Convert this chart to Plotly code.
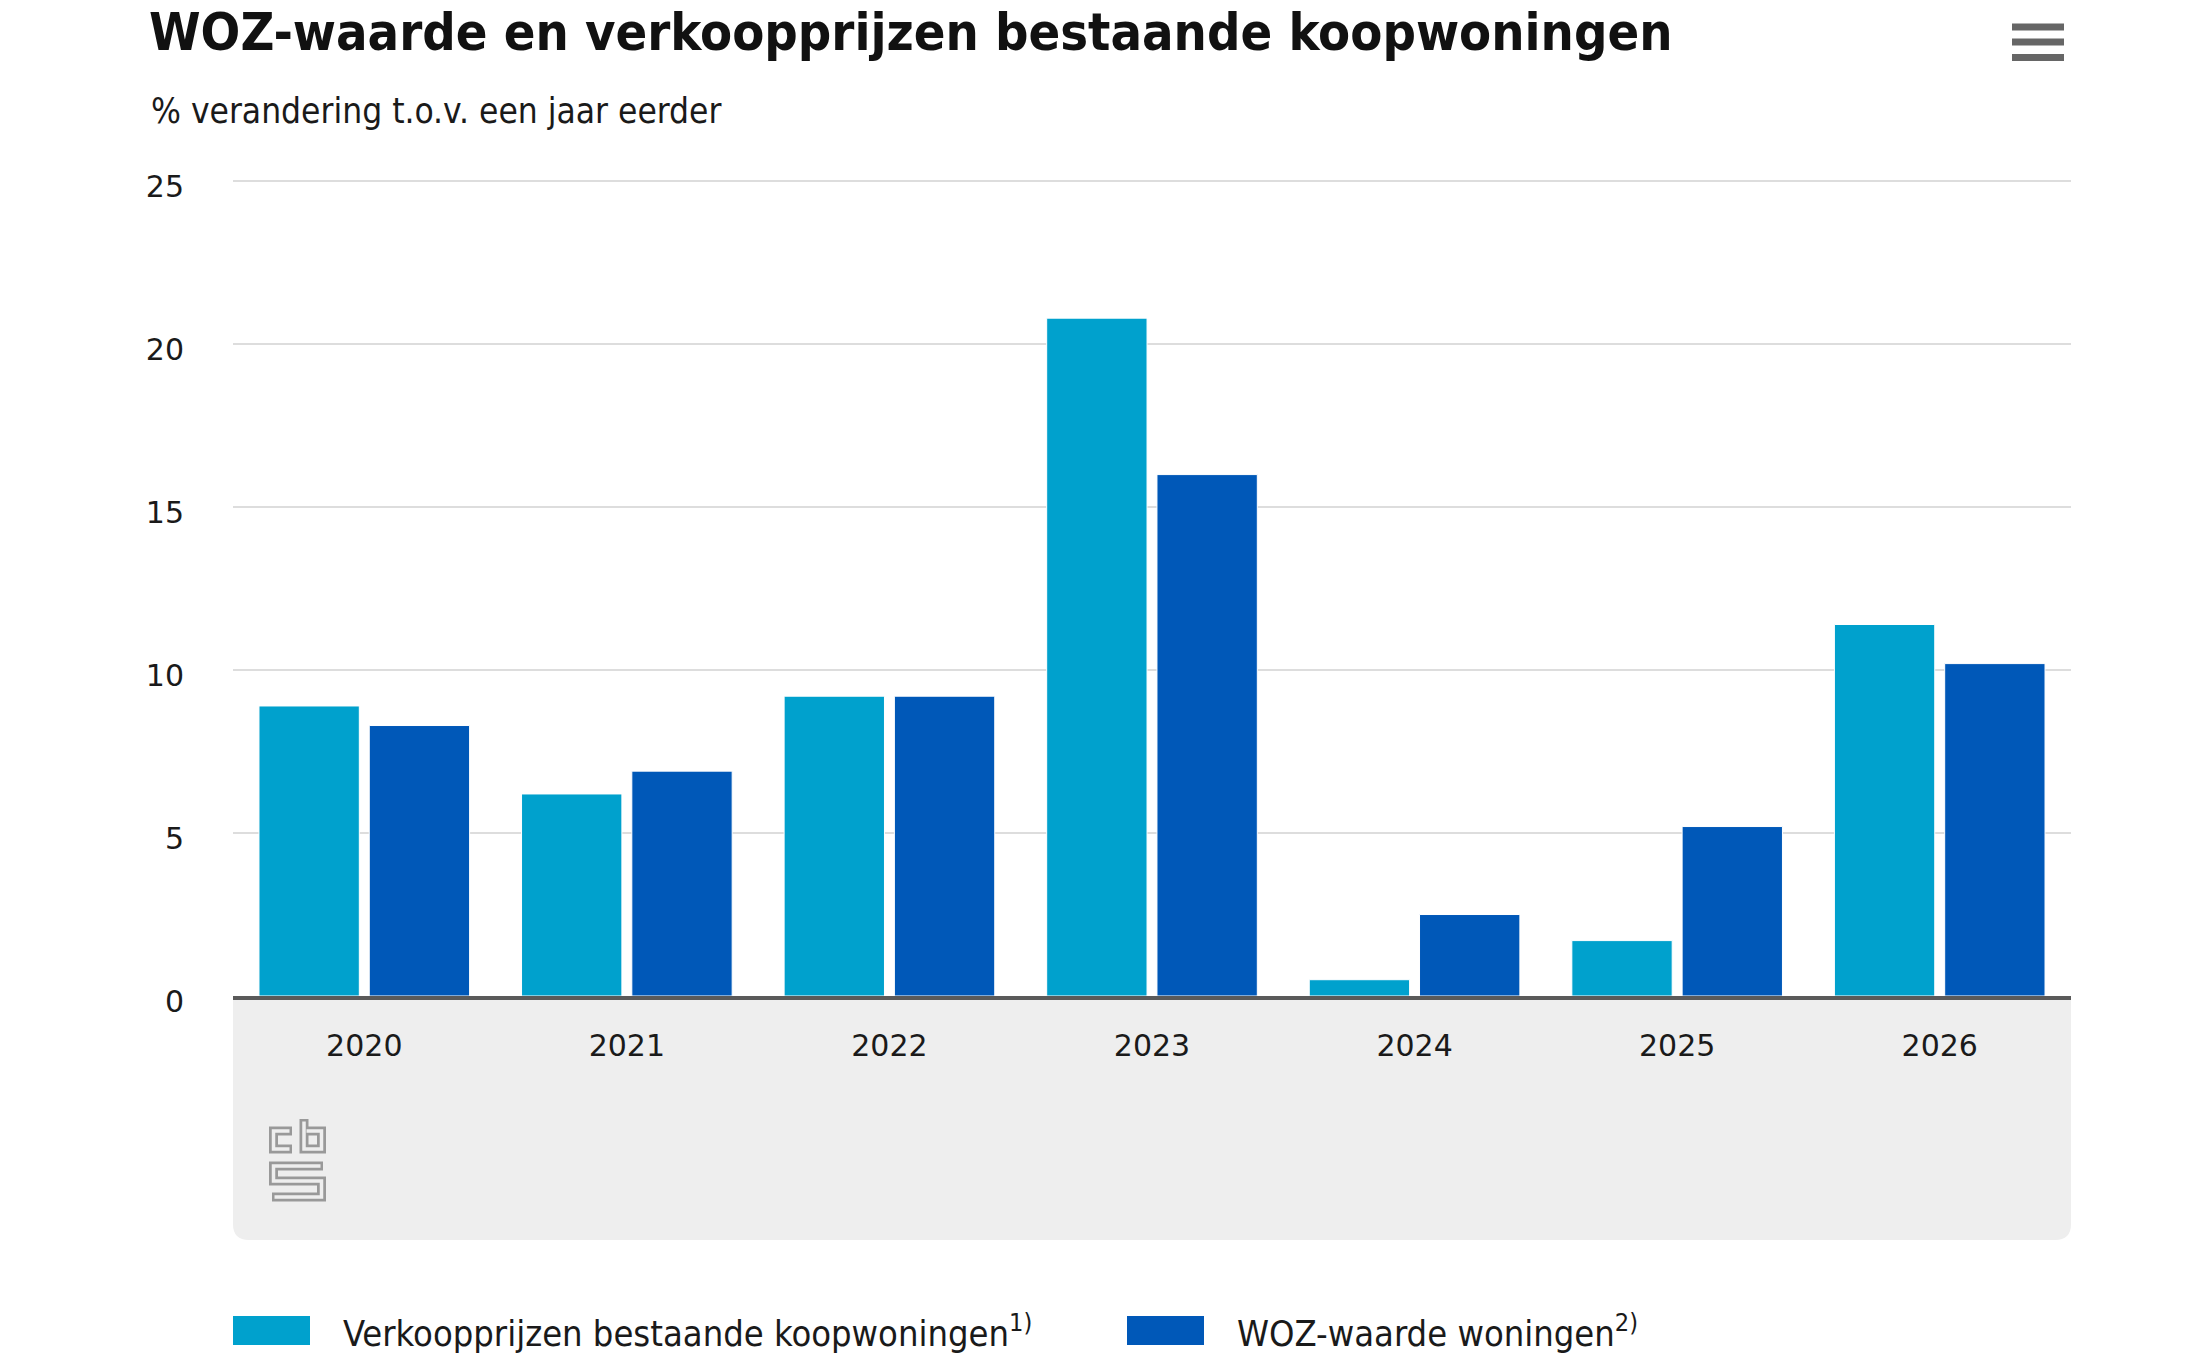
import plotly.graph_objects as go

years = ["2020", "2021", "2022", "2023", "2024", "2025", "2026"]
verkoopprijzen = [8.9, 6.2, 9.2, 20.8, 0.5, 1.7, 11.4]
woz_waarde = [8.3, 6.9, 9.2, 16.0, 2.5, 5.2, 10.2]
series_names = ["Verkoopprijzen bestaande koopwoningen", "WOZ-waarde woningen"]
series_notes = ["1)", "2)"]
y_ticks = [0, 5, 10, 15, 20, 25]

title = "WOZ-waarde en verkoopprijzen bestaande koopwoningen"
subtitle = "% verandering t.o.v. een jaar eerder"

C_LIGHT = "#00a1cd"
C_DARK = "#0058b8"
PANEL = "#eeeeee"
COND = "DejaVu Sans Condensed, Roboto, sans-serif"

FW, FH = 2200, 1354
L, R, T, B = 233, 2071, 180, 996
PW, PH = R - L, B - T


def px(x):
    return (x - L) / PW


def py(y):
    return (B - y) / PH


fig = go.Figure()
for name, vals, col in zip(series_names, [verkoopprijzen, woz_waarde], [C_LIGHT, C_DARK]):
    fig.add_trace(go.Bar(x=years, y=vals, name=name, marker=dict(color=col, line=dict(color="white", width=1)),
                         showlegend=False))

shapes = []
r = 16
x0, x1, y0, y1 = L, R, B, 1240
path = (f"M {px(x0)},{py(y0)} L {px(x1)},{py(y0)} L {px(x1)},{py(y1 - r)} "
        f"Q {px(x1)},{py(y1)} {px(x1 - r)},{py(y1)} L {px(x0 + r)},{py(y1)} "
        f"Q {px(x0)},{py(y1)} {px(x0)},{py(y1 - r)} Z")
shapes.append(dict(type="path", xref="paper", yref="paper", path=path, fillcolor=PANEL,
                   line=dict(width=0), layer="below"))

logo_paths = [
    [(292, 1131), (273.5, 1131), (273.5, 1149), (292, 1149)],
    [(304, 1119), (304, 1149), (321.5, 1149), (321.5, 1131), (304, 1131)],
    [(323, 1166), (273.5, 1166), (273.5, 1181), (321.5, 1181), (321.5, 1197), (272, 1197)],
]


def mkpath(pts):
    return "M " + " L ".join(f"{px(x)},{py(y)}" for x, y in pts)


for pts in logo_paths:
    shapes.append(dict(type="path", xref="paper", yref="paper", path=mkpath(pts),
                       line=dict(color="#999999", width=9)))
for pts in logo_paths:
    p2 = list(pts)
    (ax, ay), (bx, by) = p2[0], p2[1]
    dx, dy = bx - ax, by - ay
    n = max(abs(dx), abs(dy))
    p2[0] = (ax + 2.5 * dx / n, ay + 2.5 * dy / n)
    (ax, ay), (bx, by) = p2[-1], p2[-2]
    dx, dy = bx - ax, by - ay
    n = max(abs(dx), abs(dy))
    p2[-1] = (ax + 2.5 * dx / n, ay + 2.5 * dy / n)
    shapes.append(dict(type="path", xref="paper", yref="paper", path=mkpath(p2),
                       line=dict(color=PANEL, width=3.5)))

for yc in [27, 42, 57.5]:
    shapes.append(dict(type="rect", xref="paper", yref="paper", x0=px(2012), x1=px(2064),
                       y0=py(yc + 3.5), y1=py(yc - 3.5), fillcolor="#666666", line=dict(width=0)))

annotations = []
leg_items = [(233, 310, 341), (1127, 1204, 1235)]
for (sx0, sx1, tx), col, name, note in zip(leg_items, [C_LIGHT, C_DARK], series_names, series_notes):
    shapes.append(dict(type="rect", xref="paper", yref="paper", x0=px(sx0), x1=px(sx1),
                       y0=py(1345), y1=py(1316), fillcolor=col, line=dict(width=0)))
    annotations.append(dict(xref="paper", yref="paper", x=px(tx), y=py(1331), xanchor="left", yanchor="middle",
                            text=f"{name}<sup>{note}</sup>", showarrow=False,
                            font=dict(family=COND, size=36, color="#1a1a1a")))

annotations.append(dict(xref="paper", yref="paper", x=px(147), y=py(32), xanchor="left", yanchor="middle",
                        text=f"<b>{title}</b>", showarrow=False,
                        font=dict(family=COND, size=52, color="#111111")))
annotations.append(dict(xref="paper", yref="paper", x=px(149), y=py(111), xanchor="left", yanchor="middle",
                        text=subtitle, showarrow=False,
                        font=dict(family=COND, size=35, color="#1a1a1a")))

fig.update_layout(
    width=FW, height=FH,
    margin=dict(l=L, r=FW - R, t=T, b=FH - B, pad=0),
    paper_bgcolor="white", plot_bgcolor="white",
    barmode="group", bargap=0.16, bargroupgap=0.09,
    shapes=shapes, annotations=annotations,
    showlegend=False,
    xaxis=dict(showgrid=False, showline=True, linecolor="#5a5a5a", linewidth=4,
               ticks="outside", ticklen=20, tickcolor="rgba(0,0,0,0)",
               tickfont=dict(family="DejaVu Sans", size=30, color="#1a1a1a"), fixedrange=True),
    yaxis=dict(range=[0, 25.04], tickvals=y_ticks, showgrid=True, gridcolor="#dddddd", gridwidth=2,
               zeroline=False, showline=False, ticks="outside", ticklen=42, tickcolor="rgba(0,0,0,0)",
               ticklabelshift=5,
               tickfont=dict(family="DejaVu Sans", size=30, color="#1a1a1a"), fixedrange=True),
)

fig.write_html("out.html", config={"displayModeBar": False})
